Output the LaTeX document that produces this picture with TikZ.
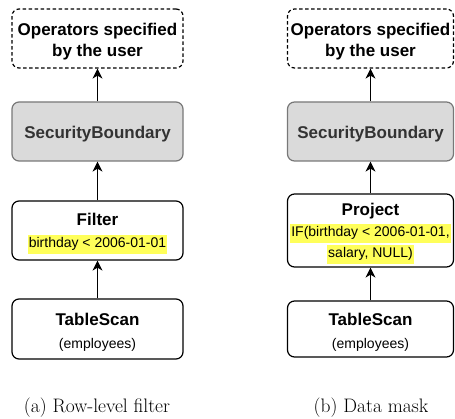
\documentclass[tikz,border=0pt]{standalone}
\usepackage{fontspec}
\setsansfont{Liberation Sans}
\usetikzlibrary{arrows.meta}
\definecolor{hlyellow}{RGB}{255,255,90}
\definecolor{sbfill}{RGB}{218,218,218}
\definecolor{sbdraw}{RGB}{120,120,120}
\definecolor{sbtext}{RGB}{51,51,51}
% second line of an operator box: regular weight, smaller
\newcommand\subtxt{\mdseries\fontsize{14}{17}\selectfont}
% highlighted expression
\newcommand\hlt[1]{{\setlength{\fboxsep}{1pt}\colorbox{hlyellow}{\strut#1}}}
% invisible strut that lowers the text block a little inside its box
\newcommand\boxlead{\rule{0pt}{18.5pt}}

\begin{document}
\begin{tikzpicture}[x=1pt,y=-1pt,
  opbox/.style={draw, line width=1.2pt, rounded corners=7pt, align=center,
    inner sep=0pt, font=\sffamily\bfseries\fontsize{17}{21}\selectfont},
  userbox/.style={opbox, dash pattern=on 3.5pt off 2.5pt},
  secbox/.style={opbox, draw=sbdraw, fill=sbfill, text=sbtext},
  flow/.style={-{Stealth[length=10pt,width=10pt,inset=3pt]}, line width=1.2pt},
  caption/.style={font=\rmfamily\fontsize{19.5}{23}\selectfont, anchor=base}]
\useasboundingbox (0,0) rectangle (455,419);

% (a) row-level filter
\node[userbox, minimum width=171pt, minimum height=59pt] (u1) at (97.5,38.5)
  {\boxlead Operators specified\\by the user};
\node[secbox, minimum width=171pt, minimum height=59pt] (s1) at (97.5,131.5)
  {\boxlead SecurityBoundary};
\node[opbox, minimum width=171pt, minimum height=59pt] (f1) at (97.5,230.5)
  {\boxlead Filter\\[1pt]{\subtxt\hlt{birthday < 2006-01-01}}};
\node[opbox, minimum width=171pt, minimum height=60pt] (t1) at (97.5,329)
  {\boxlead TableScan\\[2pt]{\subtxt (employees)}};
\node[caption] (c1) at (97,412.5) {(a) Row-level filter};

\draw[flow] (t1) -- (f1);
\draw[flow] (f1) -- (s1);
\draw[flow] (s1) -- (u1);

% (b) data mask
\node[userbox, minimum width=166pt, minimum height=59pt] (u2) at (370.5,38.5)
  {\boxlead Operators specified\\by the user};
\node[secbox, minimum width=166pt, minimum height=59pt] (s2) at (370.5,131.5)
  {\boxlead SecurityBoundary};
\node[opbox, minimum width=166pt, minimum height=73pt] (p2) at (370.5,230.5)
  {\boxlead Project\\{\subtxt\hlt{IF(birthday < 2006-01-01,}}\\{\subtxt\hlt{salary, NULL)}}};
\node[opbox, minimum width=166pt, minimum height=56pt] (t2) at (370.5,329)
  {\boxlead TableScan\\[2pt]{\subtxt (employees)}};
\node[caption] (c2) at (371,412.5) {(b) Data mask};

\draw[flow] (t2) -- (p2);
\draw[flow] (p2) -- (s2);
\draw[flow] (s2) -- (u2);
\end{tikzpicture}
\end{document}
